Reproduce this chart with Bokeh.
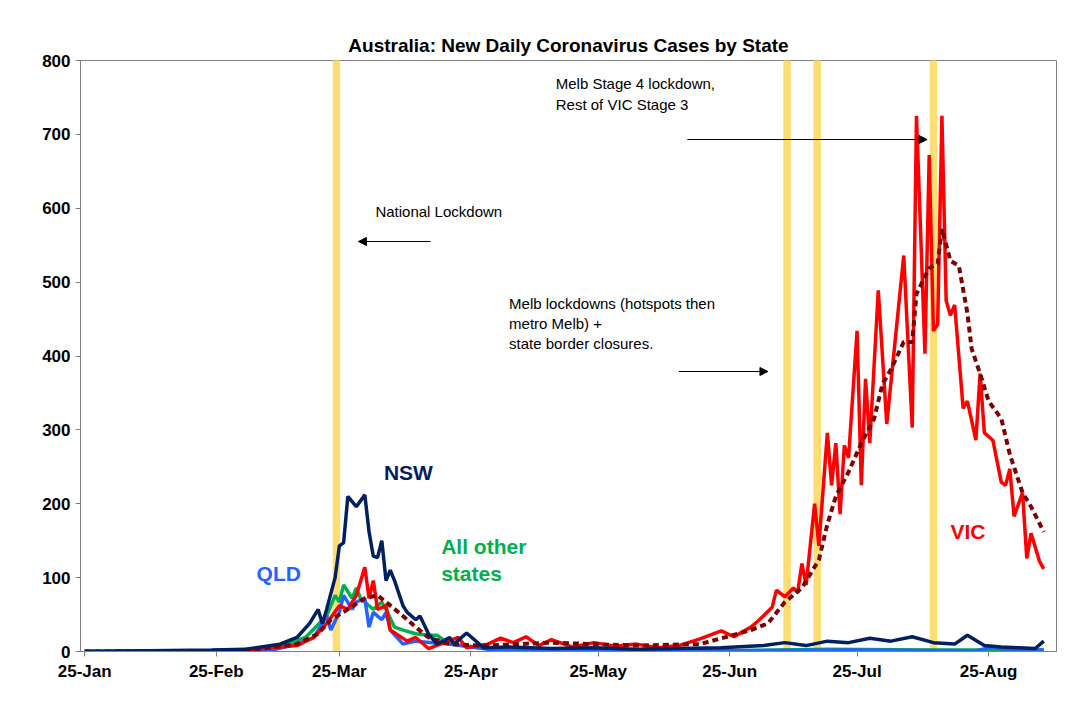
from bokeh.plotting import figure
from bokeh.models import FixedTicker, Label, Arrow, NormalHead
from bokeh.embed import file_html
from bokeh.resources import INLINE

# day 0 = 25-Jan
tick_days = [0, 31, 60, 91, 121, 152, 182, 213]
tick_labels = ["25-Jan", "25-Feb", "25-Mar", "25-Apr", "25-May", "25-Jun", "25-Jul", "25-Aug"]
event_days = [59.3, 165.5, 172.6, 200]

vic_days = [0, 20, 38, 50, 54, 57, 60, 62, 64, 66, 67, 68, 69, 71, 72, 76, 78, 81, 88, 90, 95, 98, 101, 104, 107, 110, 115, 120, 125, 130, 135, 140, 145, 150, 153, 157, 159, 162, 163, 165, 167, 168, 169, 170, 172, 173, 175, 176, 177, 178, 179, 180, 182, 183, 184, 185, 187, 189, 193, 195, 196, 198, 199, 200, 201, 202, 203, 204, 205, 207, 208, 210, 211, 212, 214, 216, 217, 218, 219, 221, 222, 223, 225, 226]
vic_vals = [0, 0, 2, 8, 19, 38, 62, 57, 76, 114, 72, 96, 57, 62, 29, 14, 19, 4, 19, 5, 10, 18, 12, 20, 8, 16, 6, 12, 7, 10, 5, 8, 17, 28, 20, 33, 43, 60, 83, 74, 86, 80, 119, 90, 200, 143, 296, 225, 282, 186, 279, 262, 434, 225, 369, 282, 489, 308, 536, 303, 725, 403, 672, 434, 443, 725, 475, 455, 469, 329, 339, 286, 376, 296, 286, 229, 225, 247, 183, 215, 126, 160, 122, 112]

vic_avg_days = [0, 38, 50, 55, 58, 62, 66, 69, 71, 75, 78, 81, 86, 94, 110, 130, 145, 157, 161, 165, 169, 173, 175, 177, 180, 183, 186, 188, 190, 193, 195, 196, 199, 201, 202, 204, 206, 208, 209, 211, 213, 216, 218, 221, 223, 226]
vic_avg_vals = [0, 1, 10, 24, 43, 57, 72, 76, 67, 48, 33, 19, 10, 8, 12, 8, 10, 29, 38, 67, 86, 124, 172, 210, 243, 282, 315, 362, 382, 419, 419, 484, 519, 525, 572, 529, 522, 458, 410, 376, 339, 315, 267, 215, 196, 162]

nsw_days = [0, 15, 30, 38, 46, 50, 53, 55, 56, 57, 59, 60, 61, 62, 64, 66, 67, 68, 69, 70, 71, 72, 73, 75, 76, 78, 79, 81, 83, 86, 87, 90, 94, 100, 110, 120, 130, 140, 150, 160, 165, 170, 175, 180, 185, 190, 195, 200, 205, 208, 212, 216, 220, 224, 226]
nsw_vals = [0, 1, 2, 3, 10, 19, 38, 57, 38, 57, 100, 143, 147, 210, 196, 212, 162, 129, 127, 150, 96, 110, 96, 62, 53, 43, 48, 24, 10, 19, 10, 25, 5, 6, 4, 5, 3, 4, 5, 8, 12, 8, 14, 12, 18, 14, 20, 12, 10, 22, 8, 6, 5, 4, 14]

qld_days = [0, 30, 45, 50, 54, 57, 58, 60, 61, 63, 64, 66, 67, 68, 70, 71, 72, 75, 78, 82, 86, 95, 120, 150, 180, 210, 214, 218, 226]
qld_vals = [0, 0, 3, 10, 19, 48, 29, 53, 76, 57, 67, 72, 33, 53, 43, 53, 29, 10, 14, 12, 10, 3, 1, 1, 2, 1, 6, 1, 2]

oth_days = [0, 30, 45, 52, 57, 59, 60, 61, 63, 64, 65, 67, 68, 70, 71, 73, 75, 78, 81, 83, 86, 95, 120, 150, 175, 200, 226]
oth_vals = [0, 1, 5, 19, 48, 76, 67, 90, 72, 86, 72, 62, 57, 67, 57, 33, 29, 24, 22, 22, 10, 4, 2, 1, 3, 2, 2]

p = figure(width=1070, height=705, output_backend="svg", toolbar_location=None,
           x_range=(-1, 229), y_range=(0, 800),
           min_border_left=80, min_border_right=14, min_border_top=60, min_border_bottom=54)
p.title.text = "Australia: New Daily Coronavirus Cases by State"
p.title.align = "center"
p.title.text_font = "Liberation Sans"
p.title.text_font_size = "19px"
p.title.text_font_style = "bold"
p.title.text_color = "black"
p.title.offset = 0

for d in event_days:
    p.vbar(x=d, top=800, bottom=0, width=1.5, color="#FFD966", alpha=0.9)

p.line(oth_days, oth_vals, color="#00B050", line_width=3.5)
p.line(qld_days, qld_vals, color="#2563FF", line_width=3.5)
p.line(vic_days, vic_vals, color="#FF0000", line_width=3.5)
p.line(vic_avg_days, vic_avg_vals, color="#7F0000", line_width=4, line_dash="6 4")
p.line(nsw_days, nsw_vals, color="#002060", line_width=3.5)

p.xaxis.ticker = FixedTicker(ticks=tick_days)
p.xaxis.major_label_overrides = {d: l for d, l in zip(tick_days, tick_labels)}
p.yaxis.ticker = FixedTicker(ticks=list(range(0, 801, 100)))
for ax in (p.xaxis, p.yaxis):
    ax.major_label_text_font = "Liberation Sans"
    ax.major_label_text_font_size = "17px"
    ax.major_label_text_font_style = "bold"
    ax.major_label_text_color = "black"
    ax.axis_line_color = "#808080"
    ax.major_tick_line_color = "#808080"
    ax.minor_tick_line_color = None
    ax.major_tick_in = 0
    ax.major_tick_out = 5
p.xgrid.grid_line_color = None
p.ygrid.grid_line_color = None
p.outline_line_color = "#808080"

F = "Liberation Sans"
def lab(x, y, t, color="black", size="15px", bold=False):
    p.add_layout(Label(x=x, y=y, text=t, text_color=color, text_font=F, text_font_size=size,
                       text_font_style="bold" if bold else "normal", text_baseline="top"))

lab(68.5, 607, "National Lockdown")
lab(111, 780, "Melb Stage 4 lockdown,\nRest of VIC Stage 3")
lab(100, 483, "Melb lockdowns (hotspots then\nmetro Melb) +\nstate border closures.")
lab(70.5, 258, "NSW", "#002060", "21px", True)
lab(40.5, 121, "QLD", "#2563FF", "21px", True)
lab(84, 158, "All other\nstates", "#00B050", "21px", True)
lab(204, 178, "VIC", "#FF0000", "21px", True)

head = lambda: NormalHead(size=8, fill_color="black", line_color="black")
p.add_layout(Arrow(end=head(), x_start=81.5, y_start=555, x_end=64.5, y_end=555, line_width=1))
p.add_layout(Arrow(end=head(), x_start=142, y_start=693, x_end=198.5, y_end=693, line_width=1))
p.add_layout(Arrow(end=head(), x_start=140, y_start=379, x_end=161, y_end=379, line_width=1))

p.add_layout(Label(x=-69, y=-64, x_units="screen", y_units="screen",
                   text="Source: Covid19data.com.au, AMP Capital", text_font=F,
                   text_font_size="26px", text_baseline="top", text_color="black"))

open("out.html", "w").write(file_html(p, INLINE))
